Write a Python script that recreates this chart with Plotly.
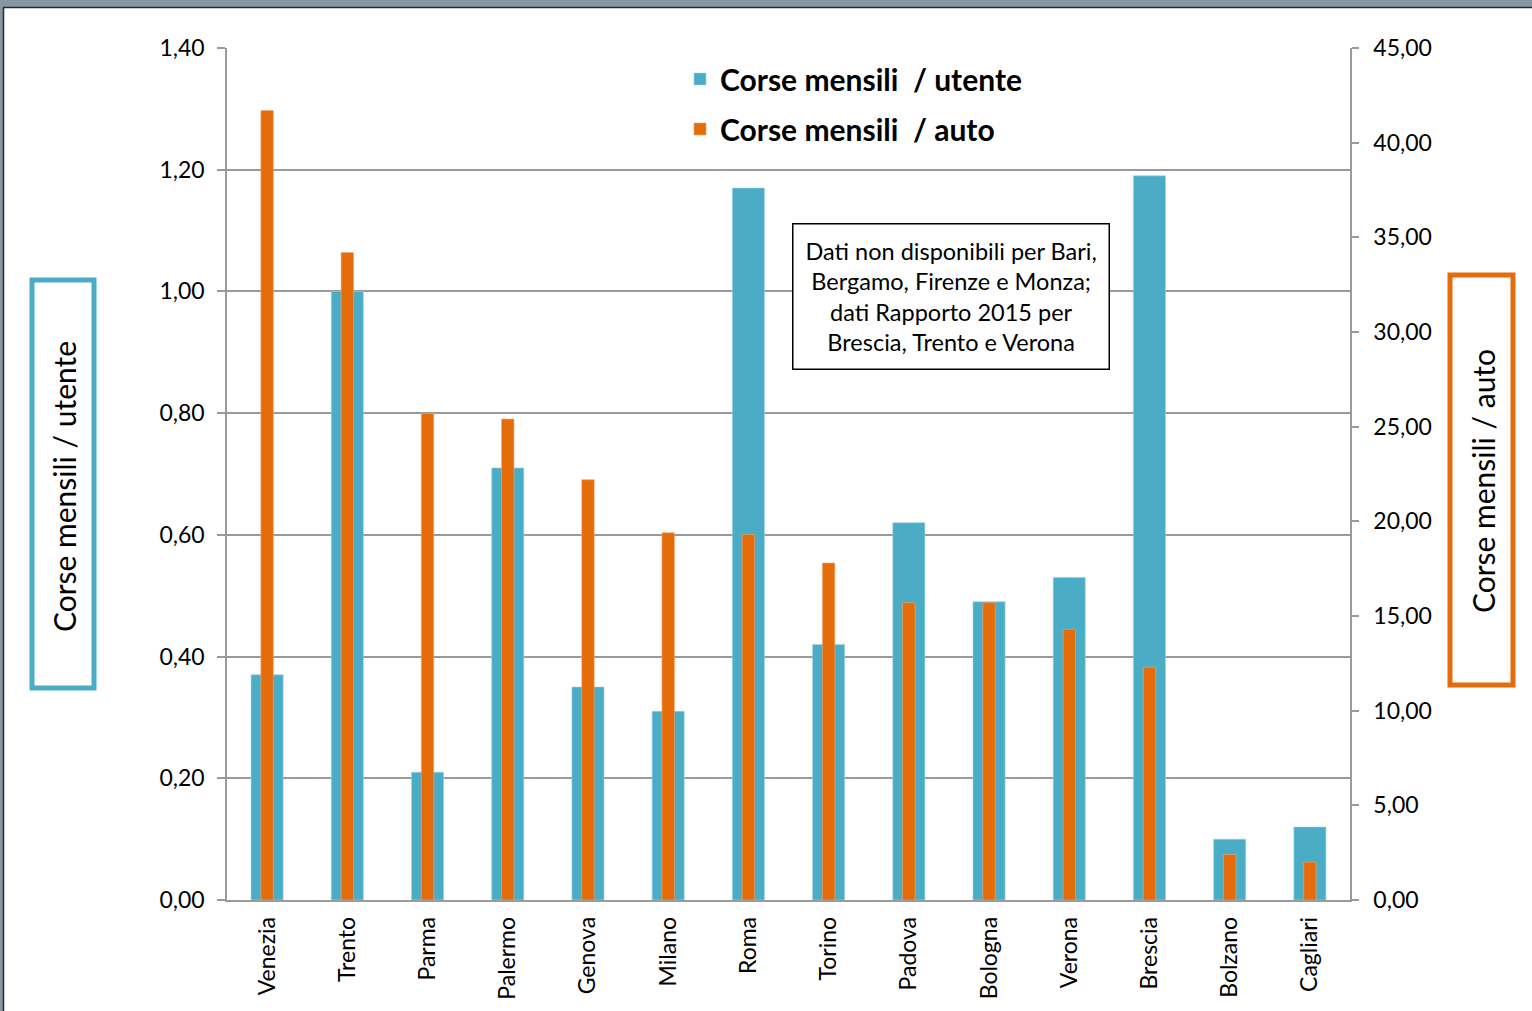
import plotly.graph_objects as go

# ---------------- data ----------------
cities = ["Venezia", "Trento", "Parma", "Palermo", "Genova", "Milano", "Roma",
          "Torino", "Padova", "Bologna", "Verona", "Brescia", "Bolzano", "Cagliari"]
corse_utente = [0.37, 1.00, 0.21, 0.71, 0.35, 0.31, 1.17, 0.42, 0.62, 0.49, 0.53, 1.19, 0.10, 0.12]
corse_auto = [41.7, 34.2, 25.7, 25.4, 22.2, 19.4, 19.3, 17.8, 15.7, 15.7, 14.3, 12.3, 2.4, 2.0]
left_ticks = [0.0, 0.2, 0.4, 0.6, 0.8, 1.0, 1.2, 1.4]
right_ticks = [0, 5, 10, 15, 20, 25, 30, 35, 40, 45]

name_utente = "Corse mensili  / utente"
name_auto = "Corse mensili  / auto"
note_text = ("Dati non disponibili per Bari,<br>Bergamo, Firenze e Monza;<br>"
             "dati Rapporto 2015 per<br>Brescia, Trento e Verona")

BLUE = "#4BACC6"
ORANGE = "#E46C0A"
FONT = "Lato"
TICK_SIZE = 23

W, H = 1532, 1011
L, R, T, B = 227, 1350, 48, 900


def px(x):
    return (x - L) / (R - L)


def py(y):
    return (B - y) / (B - T)


fig = go.Figure()
fig.add_trace(go.Bar(
    x=cities, y=corse_utente, name="<b>" + name_utente + "</b>",
    marker=dict(color=BLUE, line=dict(color="#9fd3e1", width=0.6)),
    width=0.4, yaxis="y", legendgroup="a",
))
fig.add_trace(go.Bar(
    x=cities, y=corse_auto, name="<b>" + name_auto + "</b>",
    marker=dict(color=ORANGE, line=dict(color="#f2a772", width=0.6)),
    width=0.155, yaxis="y2", legendgroup="b",
))

shapes = [
    # outer frame (top and left bands)
    dict(type="rect", xref="paper", yref="paper", x0=px(0), x1=px(W), y0=py(0), y1=py(7),
         fillcolor="#8797a3", line=dict(width=0), layer="above"),
    dict(type="line", xref="paper", yref="paper", x0=px(3), x1=px(W), y0=py(7.5), y1=py(7.5),
         line=dict(color="#2b2b2b", width=1.5), layer="above"),
    dict(type="rect", xref="paper", yref="paper", x0=px(0), x1=px(3), y0=py(7), y1=py(H),
         fillcolor="#8797a3", line=dict(width=0), layer="above"),
    dict(type="line", xref="paper", yref="paper", x0=px(3.5), x1=px(3.5), y0=py(7.5), y1=py(H),
         line=dict(color="#2b2b2b", width=1.5), layer="above"),
    # axis title boxes
    dict(type="rect", xref="paper", yref="paper", x0=px(32), x1=px(94), y0=py(280), y1=py(688),
         line=dict(color=BLUE, width=5), fillcolor="rgba(0,0,0,0)"),
    dict(type="rect", xref="paper", yref="paper", x0=px(1450), x1=px(1513), y0=py(275), y1=py(685),
         line=dict(color=ORANGE, width=5), fillcolor="rgba(0,0,0,0)"),
]

annotations = [
    dict(xref="paper", yref="paper", x=px(64), y=py(486), text="Corse mensili / utente",
         textangle=-90, showarrow=False, font=dict(family=FONT, size=30, color="black"),
         xanchor="center", yanchor="middle"),
    dict(xref="paper", yref="paper", x=px(1483), y=py(481), text="Corse mensili / auto",
         textangle=-90, showarrow=False, font=dict(family=FONT, size=30, color="black"),
         xanchor="center", yanchor="middle"),
    dict(xref="paper", yref="paper", x=px(951), y=py(296), text=note_text,
         showarrow=False, font=dict(family=FONT, size=23.5, color="black"),
         align="center", xanchor="center", yanchor="middle",
         bordercolor="black", borderwidth=1.5, borderpad=12, bgcolor="white"),
]

fig.update_layout(
    width=W, height=H,
    margin=dict(l=L, r=W - R, t=T, b=H - B, pad=0, autoexpand=False),
    paper_bgcolor="white", plot_bgcolor="white",
    separators=",.",
    barmode="overlay",
    font=dict(family=FONT, size=TICK_SIZE, color="black"),
    xaxis=dict(
        tickangle=-90, showgrid=False, ticks="", showline=True, automargin=False,
        linecolor="#9a9a9a", linewidth=1.5, tickfont=dict(family=FONT, size=TICK_SIZE),
        ticklabelstandoff=6,
    ),
    yaxis=dict(
        range=[0, 1.4], tickvals=left_ticks, tickformat=".2f", automargin=False,
        showgrid=True, gridcolor="#9a9a9a", gridwidth=1.5,
        showline=True, linecolor="#9a9a9a", linewidth=1.5,
        ticks="outside", ticklen=8, tickcolor="#9a9a9a", tickwidth=1.5,
        tickfont=dict(family=FONT, size=TICK_SIZE), ticklabelstandoff=8, zeroline=False,
    ),
    yaxis2=dict(
        range=[0, 45], tickvals=right_ticks, tickformat=".2f", automargin=False,
        overlaying="y", side="right", showgrid=False,
        showline=True, linecolor="#9a9a9a", linewidth=1.5,
        ticks="outside", ticklen=7, tickcolor="#9a9a9a", tickwidth=1.5,
        tickfont=dict(family=FONT, size=TICK_SIZE), ticklabelstandoff=10, zeroline=False,
    ),
    legend=dict(
        x=px(680), y=py(53), xanchor="left", yanchor="top",
        font=dict(family=FONT, size=30, color="black"),
        bgcolor="rgba(0,0,0,0)", tracegroupgap=8, traceorder="grouped",
    ),
    shapes=shapes,
    annotations=annotations,
)

fig.write_html("out.html", config={"displayModeBar": False},
               post_script="document.body.style.margin='0px';")
